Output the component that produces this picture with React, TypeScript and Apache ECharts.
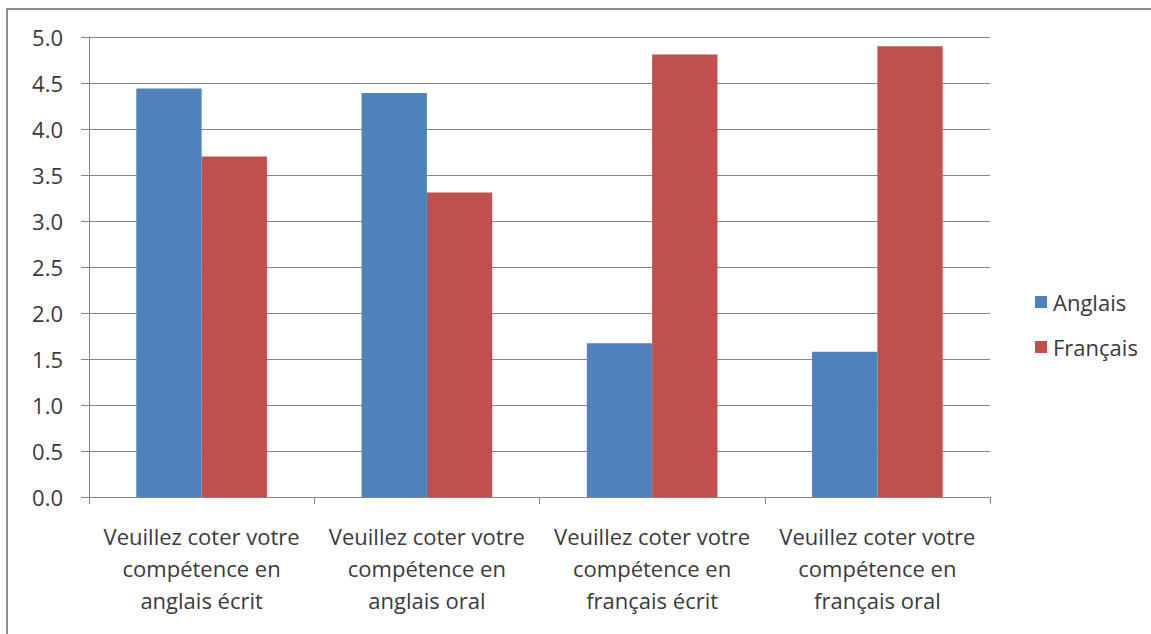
import React, { useEffect, useRef } from "react";
import * as echarts from "echarts";

const categories = [
  "Veuillez coter votre\ncompétence en\nanglais écrit",
  "Veuillez coter votre\ncompétence en\nanglais oral",
  "Veuillez coter votre\ncompétence en\nfrançais écrit",
  "Veuillez coter votre\ncompétence en\nfrançais oral",
];
const anglais = [4.44, 4.39, 1.67, 1.58];
const francais = [3.7, 3.31, 4.81, 4.9];

const FONT = "'Open Sans', sans-serif";
const TEXT = "#3a3a3a";
const LINE = "#868686";

export default function App() {
  const ref = useRef<HTMLDivElement>(null);

  useEffect(() => {
    if (!ref.current) return;
    const chart = echarts.init(ref.current, undefined, { renderer: "svg" });
    chart.setOption({
      animation: false,
      textStyle: { fontFamily: FONT, color: TEXT },
      graphic: [
        {
          type: "rect",
          shape: { x: 7, y: 9, width: 1170, height: 650 },
          style: { fill: "none", stroke: "#8c8c8c", lineWidth: 2 },
          silent: true,
        },
      ],
      grid: { left: 89, top: 37, right: 161, bottom: 137 },
      legend: {
        orient: "vertical",
        left: 1030,
        top: 286,
        itemWidth: 12,
        itemHeight: 12,
        itemGap: 23,
        icon: "rect",
        textStyle: { fontFamily: FONT, fontSize: 22, color: TEXT, padding: [0, 0, 0, 1] },
        data: ["Anglais", "Français"],
      },
      xAxis: {
        type: "category",
        data: categories,
        axisLine: { show: true, lineStyle: { color: LINE, width: 1 } },
        axisTick: { show: true, length: 7, lineStyle: { color: LINE } },
        axisLabel: {
          interval: 0,
          margin: 23,
          fontSize: 22,
          lineHeight: 32,
          color: TEXT,
          fontFamily: FONT,
        },
      },
      yAxis: {
        type: "value",
        min: 0,
        max: 5,
        interval: 0.5,
        axisLine: { show: true, lineStyle: { color: LINE, width: 1 } },
        axisTick: { show: true, length: 8, lineStyle: { color: LINE } },
        splitLine: { show: true, lineStyle: { color: LINE, width: 1 } },
        axisLabel: {
          margin: 26,
          fontSize: 22,
          color: TEXT,
          fontFamily: FONT,
          formatter: (v: number) => v.toFixed(1),
        },
      },
      series: [
        {
          name: "Anglais",
          type: "bar",
          data: anglais,
          barGap: "0%",
          barCategoryGap: "42%",
          itemStyle: { color: "#4F81BD" },
        },
        {
          name: "Français",
          type: "bar",
          data: francais,
          barGap: "0%",
          barCategoryGap: "42%",
          itemStyle: { color: "#C0504D" },
        },
      ],
    });
    return () => chart.dispose();
  }, []);

  return (
    <div
      ref={ref}
      style={{ position: "absolute", left: 0, top: 0, width: 1151, height: 634, background: "#fff" }}
    />
  );
}
